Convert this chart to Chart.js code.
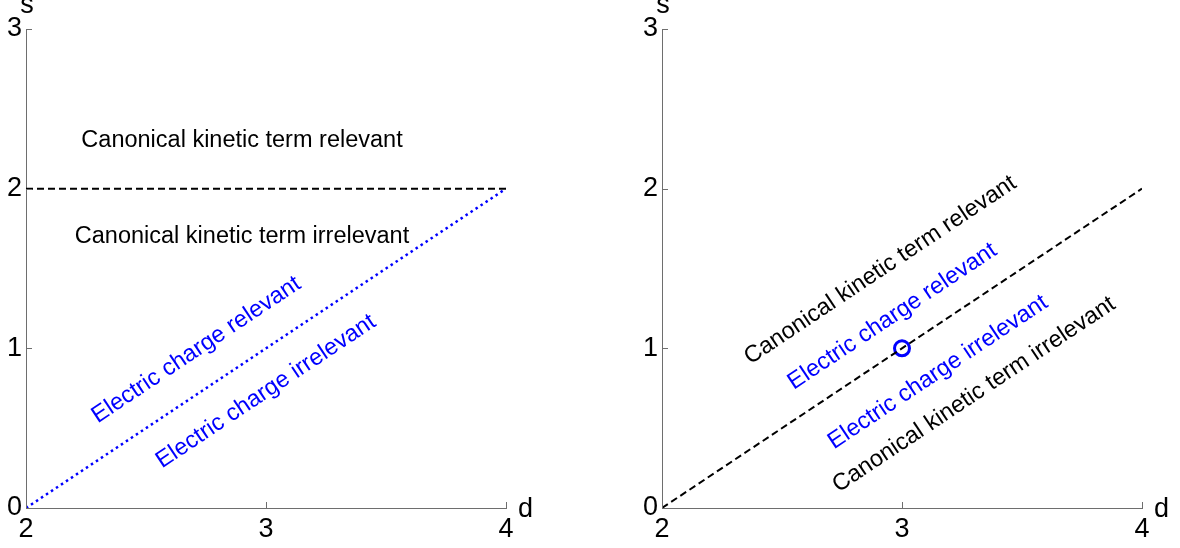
<!DOCTYPE html>
<html>
<head>
<meta charset="utf-8">
<title>Relevance of operators</title>
<script src="https://cdn.jsdelivr.net/npm/chart.js"></script>
<style>
  body { margin: 0; background: #fff; }
  #wrap { position: relative; width: 1180px; height: 548px; }
  .panel { position: absolute; top: 0; width: 590px; height: 548px; }
</style>
</head>
<body>
<div id="wrap">
  <div class="panel" style="left:0"><canvas id="left" width="590" height="548"></canvas></div>
  <div class="panel" style="left:590px"><canvas id="right" width="590" height="548"></canvas></div>
</div>
<script>
// axes
const dTicks = [2, 3, 4];
const sTicks = [0, 1, 2, 3];

// left panel lines
const leftFlatD = [2, 4];
const leftFlatS = [2, 2];
const leftDiagD = [2, 4];
const leftDiagS = [0, 2];

// left panel labels (data coords of the text centre)
const leftTexts = ['Canonical kinetic term relevant', 'Canonical kinetic term irrelevant',
                   'Electric charge relevant', 'Electric charge irrelevant'];
const leftTextD = [2.9, 2.9, 2.71, 3.0];
const leftTextS = [2.30, 1.70, 0.99, 0.73];

// right panel
const rightDiagD = [2, 4];
const rightDiagS = [0, 2];
const pointD = [3];
const pointS = [1];
const rightTexts = ['Canonical kinetic term relevant', 'Electric charge relevant',
                    'Electric charge irrelevant', 'Canonical kinetic term irrelevant'];
const rightTextD = [2.91, 2.96, 3.15, 3.30];
const rightTextS = [1.49, 1.20, 0.85, 0.71];

const FONT = '"Liberation Sans", Arial, Helvetica, sans-serif';
const axisColor = '#6e6e6e';
const slant = 33.7; // degrees, along the diagonal

function pts(xs, ys) {
  return xs.map((v, i) => ({ x: v, y: ys[i] }));
}

// colour/rotation for each label
function noteStyle(text, rotated) {
  return {
    color: text.startsWith('Electric') ? '#0000ff' : '#000000',
    rot: rotated ? slant : 0
  };
}

const notes = {
  id: 'notes',
  afterDatasetsDraw(chart, args, opts) {
    const { ctx, chartArea: a, scales: { x, y } } = chart;
    ctx.save();

    // inward tick marks
    ctx.strokeStyle = axisColor;
    ctx.lineWidth = 1;
    ctx.beginPath();
    dTicks.forEach(v => {
      const px = Math.round(x.getPixelForValue(v)) + 0.5;
      ctx.moveTo(px, a.bottom);
      ctx.lineTo(px, a.bottom - 6);
    });
    sTicks.forEach(v => {
      const py = Math.round(y.getPixelForValue(v)) + 0.5;
      ctx.moveTo(a.left, py);
      ctx.lineTo(a.left + 6, py);
    });
    ctx.stroke();

    // labels inside the plot
    ctx.font = '23.5px ' + FONT;
    ctx.textAlign = 'center';
    ctx.textBaseline = 'middle';
    opts.texts.forEach((t, i) => {
      const st = noteStyle(t, opts.rotated[i]);
      ctx.save();
      ctx.translate(x.getPixelForValue(opts.d[i]), y.getPixelForValue(opts.s[i]));
      ctx.rotate(-st.rot * Math.PI / 180);
      ctx.fillStyle = st.color;
      ctx.fillText(t, 0, 0);
      ctx.restore();
    });

    // axis names
    ctx.font = '27px ' + FONT;
    ctx.fillStyle = '#000';
    ctx.textBaseline = 'alphabetic';
    ctx.textAlign = 'center';
    ctx.fillText('s', a.left + 1, a.top - 16);
    ctx.textAlign = 'left';
    ctx.fillText('d', a.right + 12, a.bottom + 9);
    ctx.restore();
  }
};

function makeChart(id, datasets, padLeft, padRight, noteOpts) {
  return new Chart(document.getElementById(id), {
    type: 'scatter',
    data: { datasets: datasets },
    options: {
      responsive: false,
      animation: false,
      layout: { padding: { left: padLeft, right: padRight, top: 29, bottom: 0 } },
      scales: {
        x: {
          type: 'linear', min: 2, max: 4,
          afterFit: s => { s.height = 40; },
          ticks: { stepSize: 1, padding: 5, color: '#000', font: { family: FONT, size: 27 } },
          grid: { display: false, drawTicks: false },
          border: { display: true, color: axisColor, width: 1 }
        },
        y: {
          type: 'linear', min: 0, max: 3,
          afterFit: s => { s.width = 26; },
          ticks: { stepSize: 1, padding: 4, color: '#000', font: { family: FONT, size: 27 } },
          grid: { display: false, drawTicks: false },
          border: { display: true, color: axisColor, width: 1 }
        }
      },
      plugins: {
        legend: { display: false },
        tooltip: { enabled: false },
        notes: noteOpts
      }
    },
    plugins: [notes]
  });
}

makeChart('left', [
  {
    data: pts(leftFlatD, leftFlatS), showLine: true, pointRadius: 0,
    borderColor: '#000', borderWidth: 2, borderDash: [7, 4]
  },
  {
    data: pts(leftDiagD, leftDiagS), showLine: true, pointRadius: 0,
    borderColor: '#0000ff', borderWidth: 2.5, borderDash: [2.5, 3.5]
  }
], 0, 84, {
  texts: leftTexts, d: leftTextD, s: leftTextS, rotated: [false, false, true, true]
});

makeChart('right', [
  {
    data: pts(rightDiagD, rightDiagS), showLine: true, pointRadius: 0,
    borderColor: '#000', borderWidth: 2, borderDash: [7, 4]
  },
  {
    data: pts(pointD, pointS), showLine: false, pointRadius: 7.5, pointHoverRadius: 7.5,
    pointBorderColor: '#0000ff', pointBackgroundColor: '#fff', pointBorderWidth: 3
  }
], 46, 38, {
  texts: rightTexts, d: rightTextD, s: rightTextS, rotated: [true, true, true, true]
});
</script>
</body>
</html>
